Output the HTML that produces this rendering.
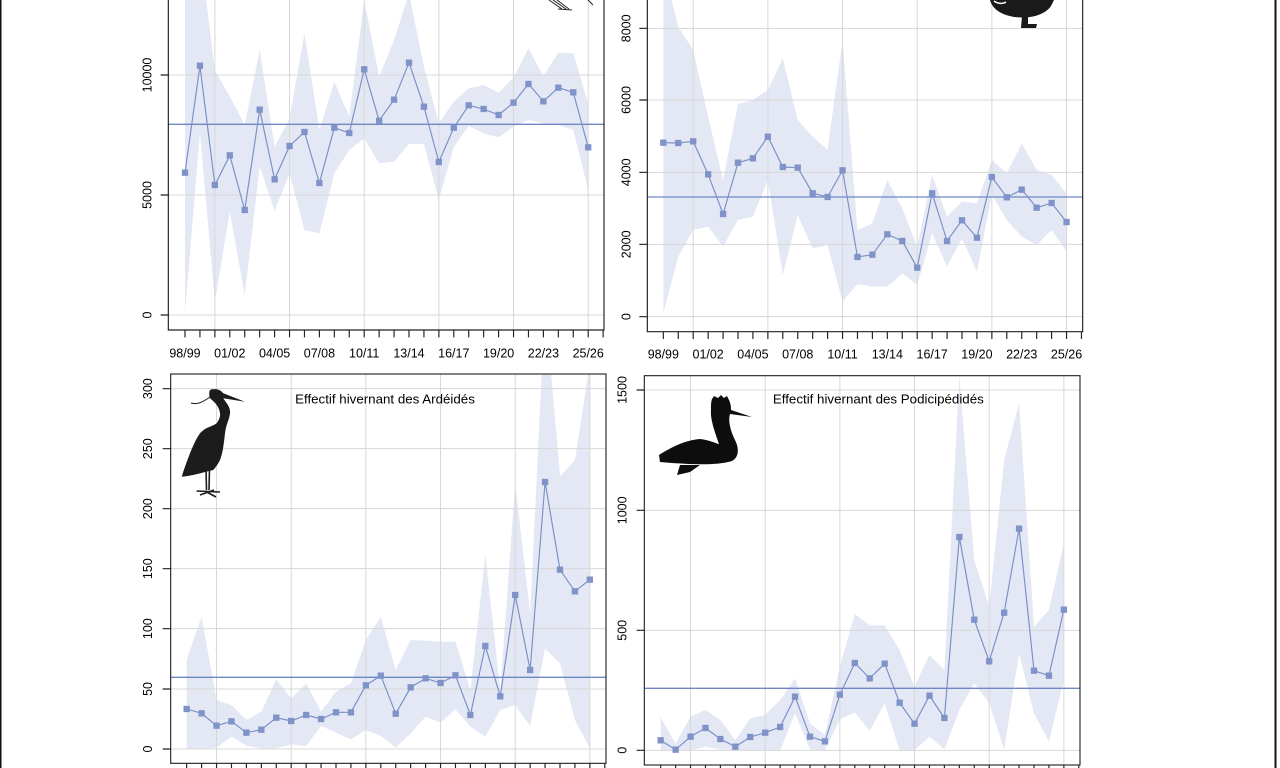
<!DOCTYPE html>
<html><head><meta charset="utf-8"><style>
html,body{margin:0;padding:0;background:#fff;}
svg{display:block;}
text{font-family:"Liberation Sans",Arial,sans-serif;fill:#000;}
</style></head><body>
<svg width="1280" height="768" viewBox="0 0 1280 768" xmlns="http://www.w3.org/2000/svg">
<defs>
<marker id="sq" markerUnits="userSpaceOnUse" markerWidth="20" markerHeight="20" refX="10" refY="10" viewBox="0 0 20 20"><rect x="0.5" y="0.5" width="19" height="19" fill="#7f93c9"/></marker>
<clipPath id="cTL"><rect x="115" y="-100" width="1307" height="1090"/></clipPath>
<clipPath id="cTR"><rect x="112" y="-100" width="1306" height="1095"/></clipPath>
<clipPath id="cBL"><rect x="122" y="12" width="1306" height="1168"/></clipPath>
<clipPath id="cBR"><rect x="103" y="17" width="1307" height="1168"/></clipPath>
</defs>
<rect x="0" y="0" width="1280" height="768" fill="#fff"/>
<rect x="0" y="0" width="1.5" height="768" fill="#111"/>
<rect x="1274.5" y="0" width="2" height="768" fill="#111"/>

<!-- TOP LEFT -->
<g transform="translate(130,0) scale(0.333333)">
<g clip-path="url(#cTL)">
<polygon fill="#e3e8f4" points="165,-60 209.8,-150 254.6,210 299.4,290 344.2,375 389,150 433.8,440 478.6,355 523.4,100 568.2,390 613,245 657.8,350 702.6,0 747.4,230 792.2,120 837,-20 881.8,200 926.6,370 971.4,305 1016.2,265 1061,255 1105.8,278 1150.6,232 1195.4,145 1240.2,228 1285,158 1329.8,160 1374.6,310 1374.6,570 1329.8,390 1285,375 1240.2,370 1195.4,360 1150.6,380 1105.8,412 1061,400 1016.2,378 971.4,440 926.6,600 881.8,432 837,432 792.2,485 747.4,490 702.6,415 657.8,450 613,520 568.2,700 523.4,690 478.6,520 433.8,632 389,500 344.2,885 299.4,635 254.6,905 209.8,400 165,940"/>
<g stroke="#d8d8d8" stroke-width="3" fill="none">
<path d="M115,945H1422M115,585H1422M115,225H1422"/>
<path d="M254.6,-100V990M478.6,-100V990M702.6,-100V990M926.6,-100V990M1150.6,-100V990M1374.6,-100V990"/>
</g>
<path d="M115,373H1422" stroke="#6f86c5" stroke-width="4" fill="none"/>
<polyline fill="none" stroke="#7b8fc8" stroke-width="3.5" marker-start="url(#sq)" marker-mid="url(#sq)" marker-end="url(#sq)" points="165,518 209.8,197 254.6,555 299.4,466 344.2,630 389,329 433.8,538 478.6,438 523.4,396 568.2,549 613,383 657.8,399 702.6,208 747.4,362 792.2,299 837,188 881.8,320 926.6,486 971.4,383 1016.2,316 1061,327 1105.8,345 1150.6,308 1195.4,252 1240.2,304 1285,263 1329.8,277 1374.6,442"/>
</g>
<path d="M115,-100V990H1422V-100" stroke="#222" stroke-width="3.5" fill="none"/>
<path d="M92,945H115M92,585H115M92,225H115" stroke="#222" stroke-width="3.5"/>
<path stroke="#222" stroke-width="3.5" d="M165,990V1012M209.8,990V1012M254.6,990V1012M299.4,990V1012M344.2,990V1012M389,990V1012M433.8,990V1012M478.6,990V1012M523.4,990V1012M568.2,990V1012M613,990V1012M657.8,990V1012M702.6,990V1012M747.4,990V1012M792.2,990V1012M837,990V1012M881.8,990V1012M926.6,990V1012M971.4,990V1012M1016.2,990V1012M1061,990V1012M1105.8,990V1012M1150.6,990V1012M1195.4,990V1012M1240.2,990V1012M1285,990V1012M1329.8,990V1012M1374.6,990V1012M1419.4,990V1012"/>
<g font-size="37.5" text-anchor="middle">
<text x="165" y="1073">98/99</text><text x="299.4" y="1073">01/02</text><text x="433.8" y="1073">04/05</text><text x="568.2" y="1073">07/08</text><text x="702.6" y="1073">10/11</text><text x="837" y="1073">13/14</text><text x="971.4" y="1073">16/17</text><text x="1105.8" y="1073">19/20</text><text x="1240.2" y="1073">22/23</text><text x="1374.6" y="1073">25/26</text>
<text transform="translate(64,945) rotate(-90)">0</text>
<text transform="translate(64,585) rotate(-90)">5000</text>
<text transform="translate(64,225) rotate(-90)">10000</text>
</g>
</g>

<!-- TOP RIGHT -->
<g transform="translate(610,0) scale(0.333333)">
<g clip-path="url(#cTR)">
<polygon fill="#e3e8f4" points="160,-100 204.8,80 249.6,150 294.4,350 339.2,540 384,312 428.8,300 473.6,270 518.4,175 563.2,360 608,410 652.8,450 697.6,120 742.4,690 787.2,670 832,540 876.8,625 921.6,740 966.4,525 1011.2,650 1056,605 1100.8,610 1145.6,480 1190.4,520 1235.2,430 1280,510 1324.8,525 1369.6,580 1369.6,755 1324.8,690 1280,735 1235.2,710 1190.4,660 1145.6,585 1100.8,815 1056,715 1011.2,800 966.4,700 921.6,855 876.8,820 832,860 787.2,860 742.4,852 697.6,905 652.8,735 608,745 563.2,645 518.4,825 473.6,540 428.8,650 384,660 339.2,740 294.4,680 249.6,690 204.8,770 160,940"/>
<g stroke="#d8d8d8" stroke-width="3" fill="none">
<path d="M112,950H1418M112,733H1418M112,517H1418M112,300H1418M112,85H1418"/>
<path d="M249.6,-100V995M473.6,-100V995M697.6,-100V995M921.6,-100V995M1145.6,-100V995M1369.6,-100V995"/>
</g>
<path d="M112,591H1418" stroke="#6f86c5" stroke-width="4" fill="none"/>
<polyline fill="none" stroke="#7b8fc8" stroke-width="3.5" marker-start="url(#sq)" marker-mid="url(#sq)" marker-end="url(#sq)" points="160,428 204.8,429 249.6,424 294.4,523 339.2,642 384,488 428.8,475 473.6,410 518.4,501 563.2,503 608,580 652.8,591 697.6,511 742.4,771 787.2,764 832,703 876.8,723 921.6,803 966.4,580 1011.2,723 1056,661 1100.8,713 1145.6,531 1190.4,592 1235.2,569 1280,623 1324.8,609 1369.6,666"/>
</g>
<path d="M112,-100V995H1418V-100" stroke="#222" stroke-width="3.5" fill="none"/>
<path d="M88,950H112M88,733H112M88,517H112M88,300H112M88,85H112" stroke="#222" stroke-width="3.5"/>
<path stroke="#222" stroke-width="3.5" d="M160,995V1017M204.8,995V1017M249.6,995V1017M294.4,995V1017M339.2,995V1017M384,995V1017M428.8,995V1017M473.6,995V1017M518.4,995V1017M563.2,995V1017M608,995V1017M652.8,995V1017M697.6,995V1017M742.4,995V1017M787.2,995V1017M832,995V1017M876.8,995V1017M921.6,995V1017M966.4,995V1017M1011.2,995V1017M1056,995V1017M1100.8,995V1017M1145.6,995V1017M1190.4,995V1017M1235.2,995V1017M1280,995V1017M1324.8,995V1017M1369.6,995V1017M1414.4,995V1017"/>
<g font-size="37.5" text-anchor="middle">
<text x="160" y="1075">98/99</text><text x="294.4" y="1075">01/02</text><text x="428.8" y="1075">04/05</text><text x="563.2" y="1075">07/08</text><text x="697.6" y="1075">10/11</text><text x="832" y="1075">13/14</text><text x="966.4" y="1075">16/17</text><text x="1100.8" y="1075">19/20</text><text x="1235.2" y="1075">22/23</text><text x="1369.6" y="1075">25/26</text>
<text transform="translate(62,950) rotate(-90)">0</text>
<text transform="translate(62,733) rotate(-90)">2000</text>
<text transform="translate(62,517) rotate(-90)">4000</text>
<text transform="translate(62,300) rotate(-90)">6000</text>
<text transform="translate(62,85) rotate(-90)">8000</text>
</g>
</g>

<!-- BOTTOM LEFT -->
<g transform="translate(130,370) scale(0.333333)">
<g clip-path="url(#cBL)">
<polygon fill="#e3e8f4" points="170,870 214.8,740 259.6,990 304.4,1005 349.2,1050 394,1025 438.8,928 483.6,985 528.4,940 573.2,1025 618,965 662.8,940 707.6,810 752.4,740 797.2,900 842,810 886.8,812 931.6,815 976.4,815 1021.2,960 1066,555 1110.8,960 1155.6,340 1200.4,730 1245.2,-200 1290,320 1334.8,270 1379.6,-20 1379.6,1135 1334.8,1050 1290,880 1245.2,835 1200.4,1068 1155.6,1005 1110.8,1020 1066,1100 1021.2,1070 976.4,1018 931.6,1058 886.8,1040 842,1090 797.2,1133 752.4,1098 707.6,1080 662.8,1108 618,1088 573.2,1068 528.4,1128 483.6,1123 438.8,1135 394,1135 349.2,1127 304.4,1100 259.6,1133 214.8,1137 170,1137"/>
<g stroke="#d8d8d8" stroke-width="3" fill="none">
<path d="M122,1137H1428M122,957H1428M122,776H1428M122,596H1428M122,416H1428M122,236H1428M122,56H1428"/>
<path d="M259.6,12V1180M483.6,12V1180M707.6,12V1180M931.6,12V1180M1155.6,12V1180M1379.6,12V1180"/>
</g>
<path d="M122,922H1428" stroke="#6f86c5" stroke-width="4" fill="none"/>
<polyline fill="none" stroke="#7b8fc8" stroke-width="3.5" marker-start="url(#sq)" marker-mid="url(#sq)" marker-end="url(#sq)" points="170,1017 214.8,1030 259.6,1067 304.4,1054 349.2,1088 394,1079 438.8,1043 483.6,1053 528.4,1035 573.2,1047 618,1027 662.8,1027 707.6,946 752.4,917 797.2,1031 842,952 886.8,925 931.6,939 976.4,916 1021.2,1035 1066,828 1110.8,979 1155.6,675 1200.4,900 1245.2,336 1290,599 1334.8,664 1379.6,629"/>
</g>
<rect x="122" y="12" width="1306" height="1168" stroke="#2a2a2a" stroke-width="3.5" fill="none"/>
<path d="M98,1137H122M98,957H122M98,776H122M98,596H122M98,416H122M98,236H122M98,56H122" stroke="#222" stroke-width="3.5"/>
<path stroke="#222" stroke-width="3.5" d="M170,1180V1210M214.8,1180V1210M259.6,1180V1210M304.4,1180V1210M349.2,1180V1210M394,1180V1210M438.8,1180V1210M483.6,1180V1210M528.4,1180V1210M573.2,1180V1210M618,1180V1210M662.8,1180V1210M707.6,1180V1210M752.4,1180V1210M797.2,1180V1210M842,1180V1210M886.8,1180V1210M931.6,1180V1210M976.4,1180V1210M1021.2,1180V1210M1066,1180V1210M1110.8,1180V1210M1155.6,1180V1210M1200.4,1180V1210M1245.2,1180V1210M1290,1180V1210M1334.8,1180V1210M1379.6,1180V1210M1424.4,1180V1210"/>
<g font-size="37.5" text-anchor="middle">
<text transform="translate(66,1137) rotate(-90)">0</text>
<text transform="translate(66,957) rotate(-90)">50</text>
<text transform="translate(66,776) rotate(-90)">100</text>
<text transform="translate(66,596) rotate(-90)">150</text>
<text transform="translate(66,416) rotate(-90)">200</text>
<text transform="translate(66,236) rotate(-90)">250</text>
<text transform="translate(66,56) rotate(-90)">300</text>
</g>
<text x="765" y="101" font-size="40" text-anchor="middle">Effectif hivernant des Ardéidés</text>
</g>

<!-- BOTTOM RIGHT -->
<g transform="translate(610,370) scale(0.333333)">
<g clip-path="url(#cBR)">
<polygon fill="#e3e8f4" points="152,1042 196.8,1120 241.6,1040 286.4,1020 331.2,1050 376,1110 420.8,1045 465.6,1035 510.4,990 555.2,925 600,1060 644.8,1095 689.6,890 734.4,732 779.2,766 824,766 868.8,840 913.6,950 958.4,855 1003.2,900 1048,18 1092.8,570 1137.6,710 1182.4,270 1227.2,100 1272,770 1316.8,720 1361.6,520 1361.6,930 1316.8,1115 1272,1030 1227.2,850 1182.4,1138 1137.6,1000 1092.8,940 1048,1020 1003.2,1138 958.4,1100 913.6,1141 868.8,1141 824,1000 779.2,1082 734.4,1027 689.6,1048 644.8,1141 600,1138 555.2,1030 510.4,1141 465.6,1141 420.8,1141 376,1141 331.2,1138 286.4,1130 241.6,1141 196.8,1141 152,1141"/>
<g stroke="#d8d8d8" stroke-width="3" fill="none">
<path d="M103,1141H1410M103,781H1410M103,421H1410M103,60H1410"/>
<path d="M241.6,17V1185M465.6,17V1185M689.6,17V1185M913.6,17V1185M1137.6,17V1185M1361.6,17V1185"/>
</g>
<path d="M103,955H1410" stroke="#6f86c5" stroke-width="4" fill="none"/>
<polyline fill="none" stroke="#7b8fc8" stroke-width="3.5" marker-start="url(#sq)" marker-mid="url(#sq)" marker-end="url(#sq)" points="152,1111 196.8,1139 241.6,1100 286.4,1074 331.2,1107 376,1130 420.8,1101 465.6,1088 510.4,1071 555.2,980 600,1100 644.8,1114 689.6,974 734.4,879 779.2,925 824,881 868.8,998 913.6,1061 958.4,977 1003.2,1044 1048,501 1092.8,749 1137.6,874 1182.4,728 1227.2,476 1272,902 1316.8,917 1361.6,719"/>
</g>
<rect x="103" y="17" width="1307" height="1168" stroke="#2a2a2a" stroke-width="3.5" fill="none"/>
<path d="M80,1141H103M80,781H103M80,421H103M80,60H103" stroke="#222" stroke-width="3.5"/>
<path stroke="#222" stroke-width="3.5" d="M152,1185V1215M196.8,1185V1215M241.6,1185V1215M286.4,1185V1215M331.2,1185V1215M376,1185V1215M420.8,1185V1215M465.6,1185V1215M510.4,1185V1215M555.2,1185V1215M600,1185V1215M644.8,1185V1215M689.6,1185V1215M734.4,1185V1215M779.2,1185V1215M824,1185V1215M868.8,1185V1215M913.6,1185V1215M958.4,1185V1215M1003.2,1185V1215M1048,1185V1215M1092.8,1185V1215M1137.6,1185V1215M1182.4,1185V1215M1227.2,1185V1215M1272,1185V1215M1316.8,1185V1215M1361.6,1185V1215M1406.4,1185V1215"/>
<g font-size="37.5" text-anchor="middle">
<text transform="translate(50,1141) rotate(-90)">0</text>
<text transform="translate(50,781) rotate(-90)">500</text>
<text transform="translate(50,421) rotate(-90)">1000</text>
<text transform="translate(50,60) rotate(-90)">1500</text>
</g>
<text x="805" y="101" font-size="40" text-anchor="middle">Effectif hivernant des Podicipédidés</text>
</g>

<!-- Bird silhouettes -->
<g stroke="#222" stroke-width="1" fill="none">
<path d="M549,0 L562,9 M553,0 L566,9 M557,0 L569,9 M558,9 L572,10 M588,0 L593,5"/>
</g>
<!-- duck top-right -->
<path fill="#1a1a1a" d="M990,0 C992,8 1000,15 1015,17 C1030,19 1045,15 1051,6 L1054,0 Z"/>
<path d="M994,1 C998,4 1003,4 1006,2" stroke="#fff" stroke-width="1.5" fill="none"/>
<path fill="#1a1a1a" d="M1022,16 L1028,16 L1028,24 L1037,24 L1036,28 L1021,28 Z"/>
<!-- heron -->
<path fill="#1c1c1c" d="M209.3,393.3 C209,390 211,389 213.3,389.3 C218,388.5 221,390.5 223.3,393.3 L245,401.7 L223.3,398.3 L226.7,403.3 C229.5,407 230.5,411 230,413.3 C229.5,418 228,421 227.3,423.3 C226,427 225.5,430 225,433.3 C224.5,438 224,442 223.3,446.7 C222.5,452 221.5,456 220,460 C218,464 216,467 213.3,470 L205,472 C198,474 190,476 181.7,476.7 C184,469 187,461 190,453.3 C193,446 196,439 200,433.3 C203,430 206,428 210,426.7 C213,425.5 215,424.5 216.7,423.3 C219,420 220.5,416.5 220,413.3 C219.5,410 218.5,407.5 216.7,405 C214.5,402 212,400 210,398.3 C209.3,396.5 209.1,395 209.3,393.3 Z"/>
<path d="M191,403 C197,405 203,402 210,397" stroke="#1c1c1c" stroke-width="1" fill="none"/>
<path d="M206,468 L206.5,490 M209.5,468 L209,490 M196.5,491 L220,492 M200,495 L214,490 M205,491 L216,497" stroke="#1c1c1c" stroke-width="1.6" fill="none"/>
<!-- grebe -->
<path fill="#0d0d0d" d="M712,399 L714,396 L718,398 L721,395 L724,398 L727,396 L729,400 C731,404 731,408 731,410 L752,417 L730,414 C728,420 730,430 735,440 C740,450 738,458 732,461 C715,466 690,464 672,463 L660,462 L659,455 C670,448 685,440 700,439 C710,440 717,444 719,444 C716,435 710,420 711,410 C711,405 711,402 712,399 Z"/>
<path fill="#0d0d0d" d="M680,465 L677,475 L690,472 L700,465 Z"/>
</svg>
</body></html>
